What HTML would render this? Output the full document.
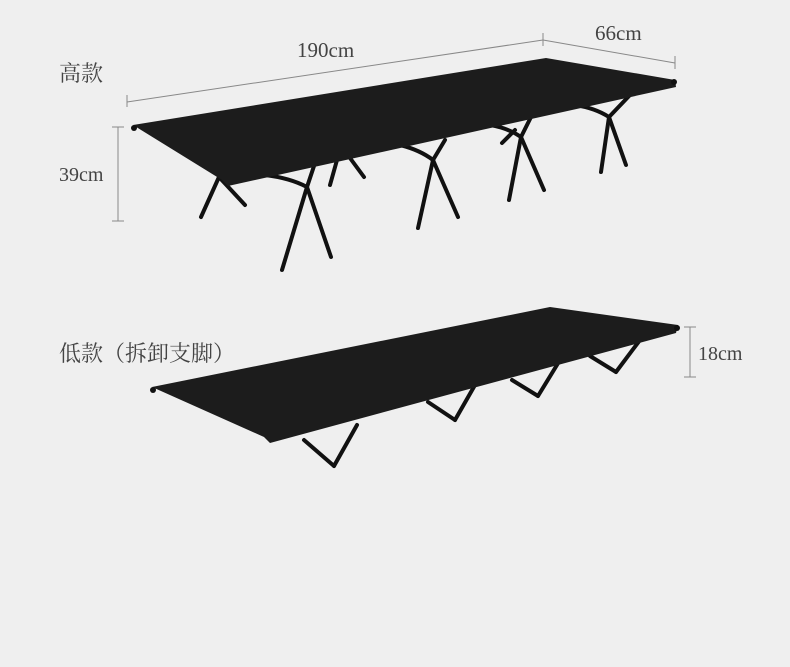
<!DOCTYPE html>
<html><head><meta charset="utf-8"><style>
html,body{margin:0;padding:0;background:#efefef;}
svg{display:block}
text{font-family:"Liberation Serif","Noto Serif CJK SC",serif;fill:#444;}
</style></head><body>
<svg width="790" height="667" viewBox="0 0 790 667">
<rect width="790" height="667" fill="#efefef"/>
<g stroke="#888" stroke-width="1" fill="none">
<line x1="127" y1="102" x2="543" y2="40"/><line x1="127" y1="95" x2="127" y2="107"/><line x1="543" y1="33" x2="543" y2="46"/>
<line x1="543" y1="40" x2="675" y2="63"/><line x1="675" y1="56" x2="675" y2="69"/>
<line x1="118" y1="127" x2="118" y2="221"/><line x1="112" y1="127" x2="124" y2="127"/><line x1="112" y1="221" x2="124" y2="221"/>
<line x1="690" y1="327" x2="690" y2="377"/><line x1="684" y1="327" x2="696" y2="327"/><line x1="684" y1="377" x2="696" y2="377"/>
</g>
<text x="59" y="81" font-size="22">高款</text>
<text x="59" y="181" font-size="20">39cm</text>
<text x="297" y="57" font-size="21">190cm</text>
<text x="595" y="40" font-size="21">66cm</text>
<text x="59" y="361" font-size="22">低款（拆卸支脚）</text>
<text x="698" y="360" font-size="20">18cm</text>
<g stroke="#111" stroke-width="4" stroke-linecap="round" fill="none">
<line x1="219" y1="177" x2="201" y2="217"/><line x1="219" y1="177" x2="245" y2="205"/>
<line x1="307" y1="187" x2="282" y2="270"/><line x1="307" y1="187" x2="331" y2="257"/>
<path d="M265 175 Q290 178 307 187"/><line x1="307" y1="187" x2="316" y2="160"/>
<line x1="337" y1="160" x2="330" y2="185"/><line x1="350" y1="158" x2="364" y2="177"/>
<line x1="433" y1="160" x2="418" y2="228"/><line x1="433" y1="160" x2="458" y2="217"/>
<path d="M400 145 Q420 150 433 160"/><line x1="433" y1="160" x2="445" y2="140"/>
<line x1="515" y1="130" x2="502" y2="143"/>
<line x1="521" y1="137" x2="509" y2="200"/><line x1="521" y1="137" x2="544" y2="190"/>
<path d="M490 125 Q508 128 521 137"/><line x1="521" y1="137" x2="532" y2="115"/>
<line x1="609" y1="117" x2="601" y2="172"/><line x1="609" y1="117" x2="626" y2="165"/>
<path d="M575 105 Q595 108 609 117"/><line x1="609" y1="117" x2="630" y2="95"/>
</g>
<polygon points="133,125 546,58 675,80 676,87 228,186 222,180" fill="#1c1c1c"/>
<circle cx="134" cy="128" r="3" fill="#111"/><circle cx="674" cy="82" r="3" fill="#111"/>
<g stroke="#111" stroke-width="4" stroke-linecap="round" fill="none">
<line x1="304" y1="440" x2="334" y2="466"/><line x1="357" y1="425" x2="334" y2="466"/>
<line x1="428" y1="402" x2="455" y2="420"/><line x1="475" y1="385" x2="455" y2="420"/>
<line x1="512" y1="380" x2="538" y2="396"/><line x1="560" y1="360" x2="538" y2="396"/>
<line x1="590" y1="356" x2="616" y2="372"/><line x1="640" y1="340" x2="616" y2="372"/>
</g>
<polygon points="152,387 550,307 678,325 676,333 270,443 264,437" fill="#1c1c1c"/>
<circle cx="153" cy="390" r="3" fill="#111"/><circle cx="677" cy="328" r="3" fill="#111"/>
</svg>
</body></html>
